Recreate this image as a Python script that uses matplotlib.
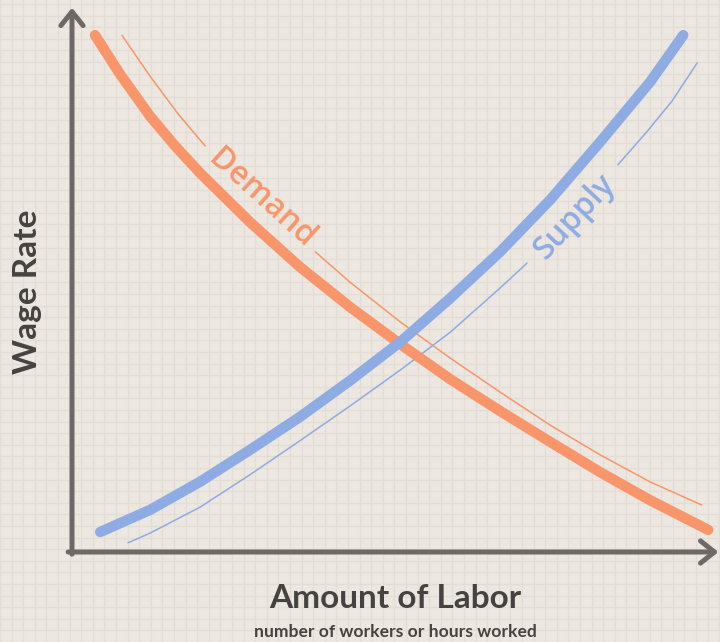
import numpy as np
import matplotlib
matplotlib.use("Agg")
import matplotlib.pyplot as plt
from matplotlib.ticker import MultipleLocator

# Labour market: demand and supply curves (arbitrary units, 0-100)
demand_x = [3.6, 7.5, 12.2, 16.1, 20.0, 27.8, 35.6, 43.4, 51.3, 59.1, 66.9,
            74.7, 82.5, 90.3, 99.4]
demand_y = [95.7, 88.5, 80.7, 75.2, 70.2, 61.1, 52.8, 45.4, 38.5, 32.0, 26.1,
            20.4, 14.8, 9.6, 4.1]

supply_x = [4.4, 12.2, 20.0, 27.8, 35.6, 43.4, 51.3, 59.1, 66.9, 74.7, 82.5,
            90.3, 95.5]
supply_y = [3.7, 7.8, 13.0, 18.9, 25.0, 31.7, 38.9, 47.0, 55.6, 65.2, 75.9,
            87.0, 95.7]

# thin guide lines, split where the curve label sits
demand_guide_a_x = [7.8, 12.2, 16.6, 20.8]
demand_guide_a_y = [95.7, 88.1, 81.1, 75.2]
demand_guide_b_x = [38.0, 43.4, 51.3, 59.1, 66.9, 74.7, 82.5, 90.3, 98.4]
demand_guide_b_y = [55.6, 50.0, 42.6, 35.9, 29.6, 23.5, 18.0, 13.0, 8.7]

supply_guide_a_x = [8.75, 12.2, 20.0, 27.8, 35.6, 43.4, 51.3, 59.1, 66.9, 71.1]
supply_guide_a_y = [1.7, 3.5, 8.3, 14.3, 20.6, 27.0, 33.7, 40.7, 48.9, 53.5]
supply_guide_b_x = [85.3, 89.8, 93.75, 97.7]
supply_guide_b_y = [71.7, 77.8, 83.5, 90.6]

demand_label = ("Demand", 29.6, 65.5, -42)
supply_label = ("Supply", 78.6, 62.0, 47)

ORANGE = "#f9956a"
BLUE = "#8eabe3"
AXIS = "#6c6967"
TEXT = "#454341"
BG = "#ece7e0"


def main():
    fig = plt.figure(figsize=(7.2, 6.42), dpi=100)
    fig.patch.set_facecolor(BG)

    # graph-paper background
    bg = fig.add_axes([0, 0, 1, 1], zorder=-1)
    bg.set_xlim(0, 720)
    bg.set_ylim(0, 642)
    bg.set_facecolor(BG)
    bg.xaxis.set_major_locator(MultipleLocator(11.6))
    bg.yaxis.set_major_locator(MultipleLocator(11.6))
    bg.grid(True, color="#e3ddd4", lw=0.9)
    bg.tick_params(length=0, labelbottom=False, labelleft=False)
    for s in bg.spines.values():
        s.set_visible(False)

    ax = fig.add_axes([72 / 720, 90 / 642, 640 / 720, 540 / 642])
    ax.set_xlim(0, 100)
    ax.set_ylim(0, 100)
    ax.patch.set_visible(False)
    ax.set_xticks([])
    ax.set_yticks([])
    for s in ax.spines.values():
        s.set_visible(False)

    # axes with open arrowheads
    arrow = dict(arrowstyle="->,head_length=1.0,head_width=0.8", lw=3.6,
                 color=AXIS, shrinkA=0, shrinkB=0)
    ax.annotate("", xy=(0, 1.008), xytext=(0, -0.004), xycoords="axes fraction",
                arrowprops=arrow, annotation_clip=False)
    ax.annotate("", xy=(1.01, 0), xytext=(-0.006, 0), xycoords="axes fraction",
                arrowprops=arrow, annotation_clip=False)

    # thin guide curves
    for gx, gy, c in [(demand_guide_a_x, demand_guide_a_y, ORANGE),
                      (demand_guide_b_x, demand_guide_b_y, ORANGE),
                      (supply_guide_a_x, supply_guide_a_y, BLUE),
                      (supply_guide_b_x, supply_guide_b_y, BLUE)]:
        ax.plot(gx, gy, color=c, lw=1.1, solid_capstyle="round",
                solid_joinstyle="round", clip_on=False)

    # main curves
    ax.plot(demand_x, demand_y, color=ORANGE, lw=7.5, solid_capstyle="round",
            solid_joinstyle="round", clip_on=False)
    ax.plot(supply_x, supply_y, color=BLUE, lw=7.5, solid_capstyle="round",
            solid_joinstyle="round", clip_on=False)

    for (txt, x, y, rot), c in [(demand_label, ORANGE), (supply_label, BLUE)]:
        ax.text(x, y, txt, color=c, fontsize=23, family="Open Sans",
                fontweight="semibold", rotation=rot,
                rotation_mode="anchor", ha="center", va="center")

    fig.text(28 / 720, 1 - 292 / 642, "Wage Rate", rotation=90, ha="center",
             va="center", fontsize=24, fontweight="bold", family="Lato", color=TEXT)
    fig.text(395 / 720, 1 - 599 / 642, "Amount of Labor", ha="center",
             va="center", fontsize=24, fontweight="bold", family="Lato", color=TEXT)
    fig.text(395 / 720, 1 - 632 / 642, "number of workers or hours worked",
             ha="center", va="center", fontsize=12.6, fontweight="bold",
             family="Lato", color=TEXT)

    fig.savefig("out.png", dpi=100, facecolor=BG)


if __name__ == "__main__":
    main()
